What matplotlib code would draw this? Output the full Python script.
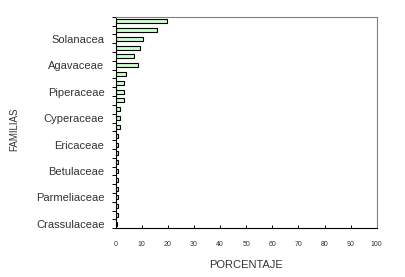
import numpy as np
import matplotlib.pyplot as plt

plt.rcParams['font.family'] = ['Liberation Sans', 'DejaVu Sans']

# families from top to bottom (only every third name is printed on the chart)
familias = ['', '', 'Solanacea', '', '', 'Agavaceae', '', '', 'Piperaceae',
            '', '', 'Cyperaceae', '', '', 'Ericaceae', '', '', 'Betulaceae',
            '', '', 'Parmeliaceae', '', '', 'Crassulaceae']
porcentaje = [19.8, 16.0, 10.7, 9.2, 6.9, 8.8, 4.2, 3.1, 3.1, 3.1, 1.9, 1.7,
              1.7, 0.9, 0.9, 0.9, 0.8, 0.8, 0.8, 0.8, 0.8, 0.8, 0.8, 0.4]
xticks = np.arange(0, 101, 10)

fig = plt.figure(figsize=(4.06, 2.77), dpi=100)
ax = fig.add_axes([0.2845, 0.1758, 0.6435, 0.7639])

pos = np.arange(len(porcentaje))
ax.barh(pos, porcentaje, height=0.45, color='#CCFFCC', edgecolor='black',
        linewidth=0.8)

ax.set_xlim(0, 100)
ax.set_ylim(len(pos) - 0.5, -0.5)

# x axis
ax.set_xticks(xticks)
ax.set_xticklabels([str(t) for t in xticks], fontsize=5, color='#333333')
ax.tick_params(axis='x', direction='in', length=2.5, width=0.7, pad=9)

# y axis: ticks at category boundaries, names at category centres
ax.set_yticks(np.arange(-0.5, len(pos), 1))
ax.set_yticklabels([])
ax.tick_params(axis='y', which='major', direction='out', length=3, width=0.7)
ax.set_yticks(pos, minor=True)
ax.set_yticklabels(familias, minor=True, fontsize=8, color='#333333')
ax.tick_params(axis='y', which='minor', length=0, pad=8)

for side in ['top', 'right']:
    ax.spines[side].set_color('#808080')
    ax.spines[side].set_linewidth(0.8)
for side in ['left', 'bottom']:
    ax.spines[side].set_color('black')
    ax.spines[side].set_linewidth(0.8)

ax.set_xlabel('PORCENTAJE', fontsize=8, color='#333333', labelpad=9)
ax.set_ylabel('FAMILIAS', fontsize=7, color='#333333')
ax.yaxis.set_label_coords(-0.37, 0.47)

fig.savefig('out.png', dpi=100)
